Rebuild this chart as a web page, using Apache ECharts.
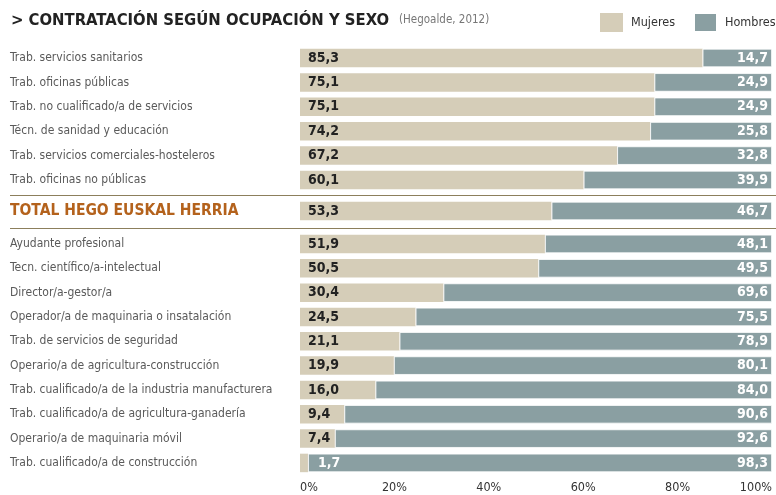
<!DOCTYPE html>
<html>
<head>
<meta charset="utf-8">
<script src="https://cdn.jsdelivr.net/npm/echarts@6/dist/echarts.min.js"></script>
<style>
  html, body { margin: 0; padding: 0; background: #fff; }
  #chart { width: 776px; height: 495px; }
</style>
</head>
<body>
<div id="chart"></div>
<script>
  // datos (Hegoalde, 2012)
  var catTop = ['Trab. servicios sanitarios', 'Trab. oficinas públicas', 'Trab. no cualificado/a de servicios',
    'Técn. de sanidad y educación', 'Trab. servicios comerciales-hosteleros', 'Trab. oficinas no públicas']
  var mujTop = [85.3, 75.1, 75.1, 74.2, 67.2, 60.1]
  var homTop = [14.7, 24.9, 24.9, 25.8, 32.8, 39.9]

  var catTotal = ['TOTAL HEGO EUSKAL HERRIA']
  var mujTotal = [53.3]
  var homTotal = [46.7]

  var catBot = ['Ayudante profesional', 'Tecn. científico/a-intelectual', 'Director/a-gestor/a',
    'Operador/a de maquinaria o insatalación', 'Trab. de servicios de seguridad', 'Operario/a de agricultura-construcción',
    'Trab. cualificado/a de la industria manufacturera', 'Trab. cualificado/a de agricultura-ganadería',
    'Operario/a de maquinaria móvil', 'Trab. cualificado/a de construcción']
  var mujBot = [51.9, 50.5, 30.4, 24.5, 21.1, 19.9, 16.0, 9.4, 7.4, 1.7]
  var homBot = [48.1, 49.5, 69.6, 75.5, 78.9, 80.1, 84.0, 90.6, 92.6, 98.3]

  var BEIGE = '#d5cdb8'
  var GRIS = '#8a9fa2'
  var FONT = '"Liberation Sans Narrow", "DejaVu Sans Condensed", sans-serif'

  function fmt(v) {
    return v.toFixed(1).replace('.', ',')
  }

  function mujData(arr) {
    return arr.map(function (v) {
      if (v < 5) {
        return {value: v, label: {position: 'right', color: '#fff', distance: 10}}
      }
      return v
    })
  }

  var grids = [
    {left: 300, right: 4, top: 45.8, height: 146.4, outerBoundsMode: 'none'},
    {left: 300, right: 4, top: 198.8, height: 24.4, outerBoundsMode: 'none'},
    {left: 300, right: 4, top: 231.8, height: 243.3, outerBoundsMode: 'none'}
  ]

  var xAxes = grids.map(function (g, i) {
    return {
      gridIndex: i,
      type: 'value',
      min: 0,
      max: 100,
      interval: 20,
      show: i === 2,
      axisLine: {show: false},
      axisTick: {show: false},
      splitLine: {show: false},
      axisLabel: {
        show: i === 2,
        formatter: '{value}%',
        color: '#333',
        fontFamily: FONT,
        fontSize: 12.5,
        margin: 6,
        alignMinLabel: 'left',
        alignMaxLabel: 'right'
      }
    }
  })

  var cats = [catTop, catTotal, catBot]
  var yAxes = cats.map(function (c, i) {
    return {
      gridIndex: i,
      type: 'category',
      inverse: true,
      data: c,
      axisLine: {show: false},
      axisTick: {show: false},
      axisLabel: {
        align: 'left',
        margin: 290,
        color: i === 1 ? '#b4621c' : '#5a5a5a',
        fontFamily: FONT,
        fontWeight: i === 1 ? 'bold' : 'normal',
        fontSize: i === 1 ? 15.5 : 12
      }
    }
  })

  var muj = [mujTop, mujTotal, mujBot]
  var hom = [homTop, homTotal, homBot]
  var series = []
  for (var i = 0; i < 3; i++) {
    series.push({
      name: 'Mujeres',
      type: 'bar',
      stack: 's' + i,
      xAxisIndex: i,
      yAxisIndex: i,
      barWidth: 18.5,
      itemStyle: {color: BEIGE},
      label: {
        show: true,
        position: 'insideLeft',
        distance: 8,
        color: '#222',
        fontFamily: FONT,
        fontWeight: 'bold',
        fontSize: 14,
        formatter: function (p) { return fmt(p.value) }
      },
      data: mujData(muj[i])
    })
    series.push({
      name: 'Hombres',
      type: 'bar',
      stack: 's' + i,
      xAxisIndex: i,
      yAxisIndex: i,
      barWidth: 18.5,
      itemStyle: {color: GRIS, borderColor: '#fff', borderWidth: 0.8},
      label: {
        show: true,
        position: 'insideRight',
        distance: 4,
        color: '#fff',
        fontFamily: FONT,
        fontWeight: 'bold',
        fontSize: 14,
        formatter: function (p) { return fmt(p.value) }
      },
      data: hom[i]
    })
  }

  var chart = echarts.init(document.getElementById('chart'))
  chart.setOption({
    animation: false,
    title: {
      left: 6,
      top: 7,
      text: '{a|> CONTRATACIÓN SEGÚN OCUPACIÓN Y SEXO}{b|   (Hegoalde, 2012)}',
      textStyle: {
        rich: {
          a: {fontFamily: FONT, fontWeight: 'bold', fontSize: 16.5, color: '#222'},
          b: {fontFamily: FONT, fontWeight: 'normal', fontSize: 11.5, color: '#777'}
        }
      }
    },
    legend: {
      data: ['Mujeres', 'Hombres'],
      orient: 'horizontal',
      left: 600,
      top: 12,
      width: 400,
      padding: 0,
      icon: 'rect',
      itemWidth: 23,
      itemHeight: 19,
      itemGap: 18,
      textStyle: {fontFamily: FONT, fontSize: 12.5, color: '#333', padding: [0, 0, 0, 3]}
    },
    grid: grids,
    xAxis: xAxes,
    yAxis: yAxes,
    series: series,
    graphic: [
      {type: 'line', shape: {x1: 10, y1: 195.5, x2: 776, y2: 195.5}, style: {stroke: '#8c7f5c', lineWidth: 1}},
      {type: 'line', shape: {x1: 10, y1: 228.5, x2: 776, y2: 228.5}, style: {stroke: '#8c7f5c', lineWidth: 1}}
    ]
  })
</script>
</body>
</html>
